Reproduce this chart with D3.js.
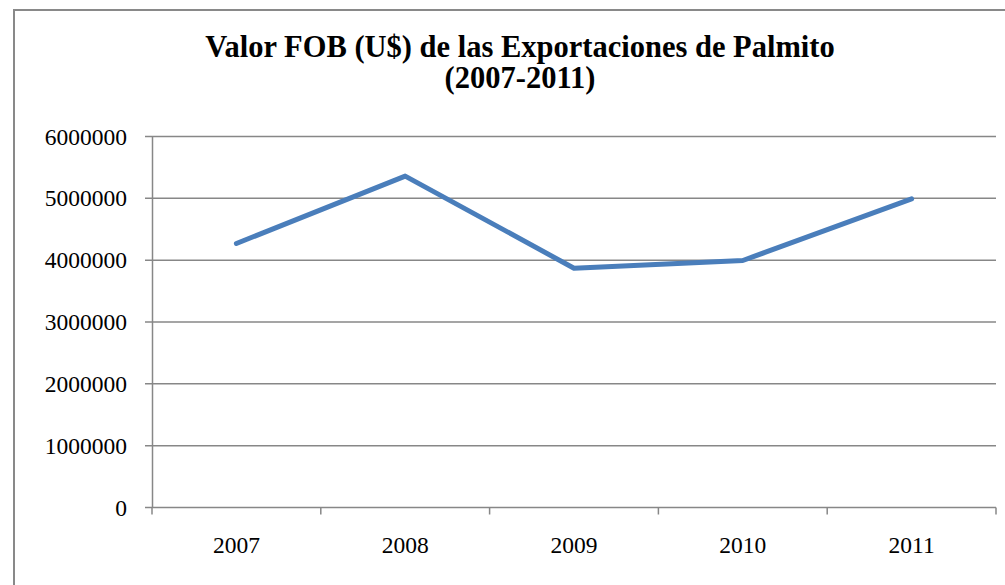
<!DOCTYPE html>
<html>
<head>
<meta charset="utf-8">
<script src="https://cdn.jsdelivr.net/npm/d3@7"></script>
<style>
  body { margin: 0; background: #fff; }
</style>
</head>
<body>
<figure style="margin:0"></figure>
<script>
const years = ["2007", "2008", "2009", "2010", "2011"];
const fobValues = [4270000, 5360000, 3870000, 3995000, 4990000];
const yTicks = [0, 1000000, 2000000, 3000000, 4000000, 5000000, 6000000];
const titleLines = ["Valor FOB (U$) de las Exportaciones de Palmito", "(2007-2011)"];

const serif = "'Liberation Serif', 'DejaVu Serif', serif";

const width = 1005;
const height = 585;
const margin = { top: 136.5, right: 9, bottom: 77.5, left: 152 };

const svg = d3.select("figure").append("svg")
  .attr("width", width)
  .attr("height", height);

// chart frame
svg.append("rect")
  .attr("x", 14).attr("y", 10)
  .attr("width", 1040).attr("height", 620)
  .attr("fill", "#fff")
  .attr("stroke", "#898989")
  .attr("stroke-width", 2);

const x = d3.scaleBand()
  .domain(years)
  .range([margin.left, width - margin.right]);

const y = d3.scaleLinear()
  .domain([0, 6000000])
  .range([height - margin.bottom, margin.top]);

// gridlines
svg.append("g")
  .selectAll("line")
  .data(yTicks)
  .join("line")
  .attr("x1", margin.left - 7)
  .attr("x2", width - margin.right)
  .attr("y1", d => y(d))
  .attr("y2", d => y(d))
  .attr("stroke", "#878787")
  .attr("stroke-width", 1.5);

// y axis
const yAxis = d3.axisLeft(y)
  .tickValues(yTicks)
  .tickSize(0)
  .tickPadding(25)
  .tickFormat(d3.format("d"));

svg.append("g")
  .attr("transform", `translate(${margin.left},0)`)
  .call(yAxis)
  .attr("font-family", serif)
  .call(g => g.select(".domain").attr("stroke", "#878787").attr("stroke-width", 1.5))
  .call(g => g.selectAll(".tick text")
    .style("font-family", serif)
    .style("font-size", "23.5px"));

// x axis
const xAxis = d3.axisBottom(x)
  .tickSize(0)
  .tickPadding(29);

svg.append("g")
  .attr("transform", `translate(0,${y(0)})`)
  .call(xAxis)
  .attr("font-family", serif)
  .call(g => g.select(".domain").remove())
  .call(g => g.selectAll(".tick text")
    .style("font-family", serif)
    .style("font-size", "23.5px"));

// category boundary ticks
const bounds = years.map(d => x(d)).concat([x(years[years.length - 1]) + x.bandwidth()]);
svg.append("g")
  .selectAll("line")
  .data(bounds)
  .join("line")
  .attr("x1", d => d).attr("x2", d => d)
  .attr("y1", y(0)).attr("y2", y(0) + 7)
  .attr("stroke", "#878787")
  .attr("stroke-width", 1.5);

// line series
const line = d3.line()
  .x((d, i) => x(years[i]) + x.bandwidth() / 2)
  .y(d => y(d));

svg.append("path")
  .datum(fobValues)
  .attr("d", line)
  .attr("fill", "none")
  .attr("stroke", "#4A7EBB")
  .attr("stroke-width", 5)
  .attr("stroke-linejoin", "round")
  .attr("stroke-linecap", "round");

// title
svg.append("text")
  .attr("text-anchor", "middle")
  .style("font-family", serif)
  .style("font-size", "30.5px")
  .style("font-weight", "bold")
  .selectAll("tspan")
  .data(titleLines)
  .join("tspan")
  .attr("x", 520)
  .attr("y", (d, i) => 57 + i * 31)
  .text(d => d);
</script>
</body>
</html>
